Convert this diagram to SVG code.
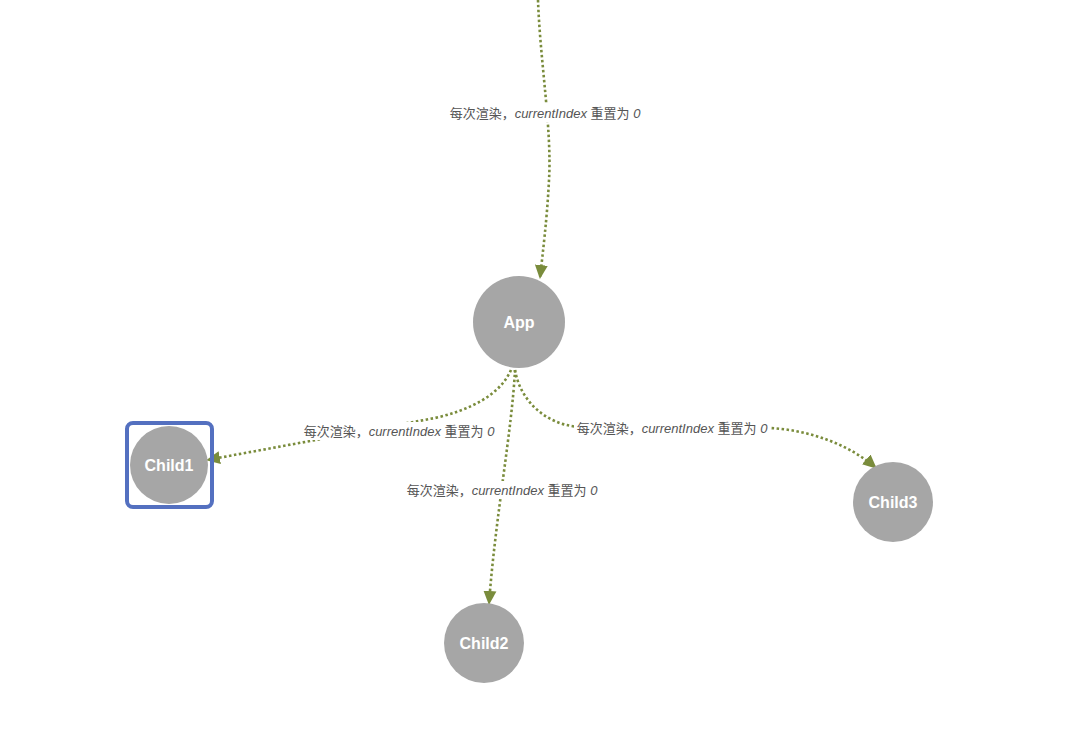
<svg xmlns="http://www.w3.org/2000/svg" width="1080" height="743" viewBox="0 0 1080 743">
<style>
.edge{fill:none;stroke:#7a8c3c;stroke-width:2.6;stroke-dasharray:2.5 2.5}
.node circle{fill:#a6a6a6}
.node text{fill:#fff;font-family:"Liberation Sans","Noto Sans CJK SC",sans-serif;font-weight:bold;font-size:16px;text-anchor:middle;dominant-baseline:central}
.lbl text{fill:#555;font-family:"Liberation Sans","Noto Sans CJK SC",sans-serif;font-size:13px;text-anchor:middle;dominant-baseline:central}
.lbl rect{fill:#fff}
.it{font-style:italic}
</style>
<defs>
<marker id="arr" markerUnits="userSpaceOnUse" markerWidth="15" markerHeight="15" viewBox="0 0 15 15" refX="13" refY="7.5" orient="auto">
<path d="M0,1 L14,7.5 L0,14 Z" fill="#7a8c3c"/>
</marker>
</defs>
<rect width="1080" height="743" fill="#fff"/>
<g id="connectors">
<path class="edge" d="M538,0 C540,60 552,130 549,180 C547,220 543,250 540,278" marker-end="url(#arr)"/>
<path class="edge" d="M511,370 C500,395 470,410 435,418 L207,460" marker-end="url(#arr)"/>
<path class="edge" d="M515,370 C512,430 495,520 489,604" marker-end="url(#arr)"/>
<path class="edge" d="M515,370 C520,400 545,425 580,427 L770,428 C810,430 850,445 876,468" marker-end="url(#arr)"/>
<g class="lbl">
<rect x="447" y="104" width="196" height="18"/>
<text x="545" y="113">每次渲染，<tspan class="it">currentIndex</tspan> 重置为 <tspan class="it">0</tspan></text>
<rect x="301" y="422" width="196" height="18"/>
<text x="399" y="431">每次渲染，<tspan class="it">currentIndex</tspan> 重置为 <tspan class="it">0</tspan></text>
<rect x="404" y="481" width="196" height="18"/>
<text x="502" y="490">每次渲染，<tspan class="it">currentIndex</tspan> 重置为 <tspan class="it">0</tspan></text>
<rect x="574" y="419" width="196" height="18"/>
<text x="672" y="428">每次渲染，<tspan class="it">currentIndex</tspan> 重置为 <tspan class="it">0</tspan></text>
</g>
</g>
<g id="node-app" class="node"><circle cx="519" cy="322" r="46"/><text x="519" y="322">App</text></g>
<g id="node-child1" class="node"><circle cx="169" cy="465" r="39"/><text x="169" y="465">Child1</text>
<rect x="127" y="423" width="85" height="84" rx="6" fill="none" stroke="#5470c0" stroke-width="4"/></g>
<g id="node-child2" class="node"><circle cx="484" cy="643" r="40"/><text x="484" y="643">Child2</text></g>
<g id="node-child3" class="node"><circle cx="893" cy="502" r="40"/><text x="893" y="502">Child3</text></g>
</svg>
